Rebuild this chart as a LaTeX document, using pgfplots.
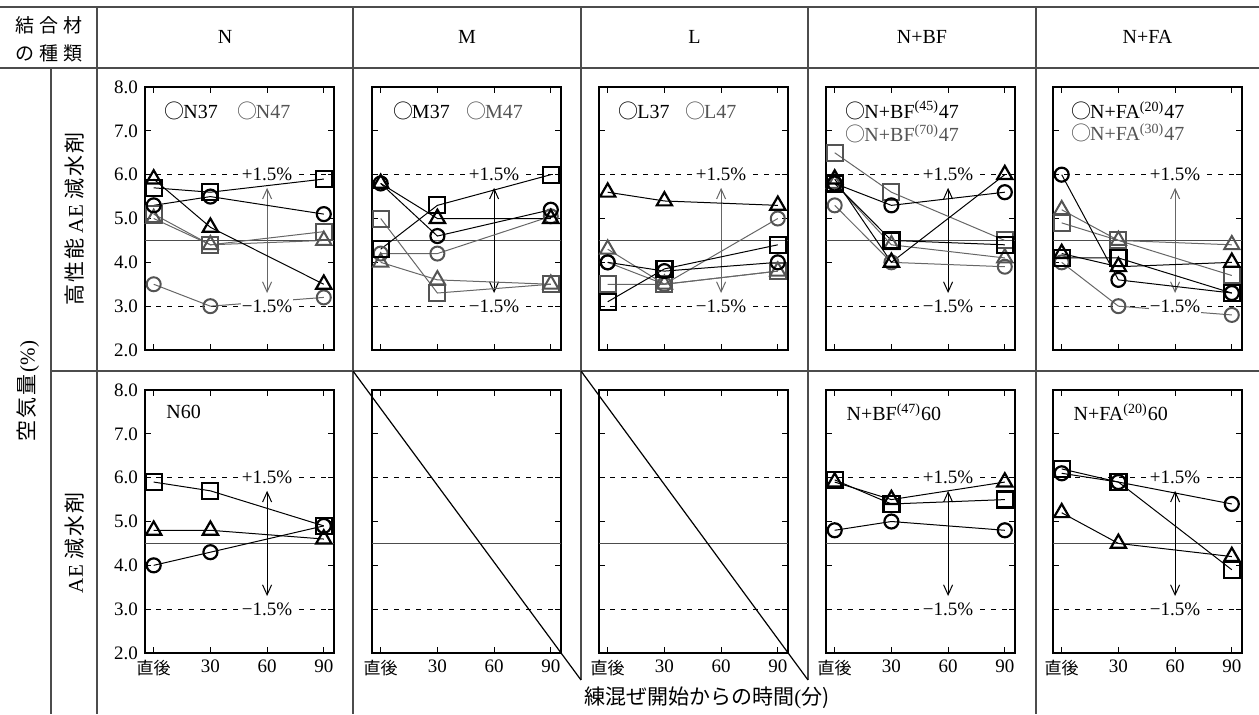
\documentclass[border=0pt]{standalone}
\usepackage{fontspec}
\setmainfont{Liberation Serif}
\newfontfamily\jp{Noto Sans CJK JP}
\usepackage{pgfplots}
\pgfplotsset{compat=1.18}
\usetikzlibrary{arrows.meta}
\definecolor{gm}{gray}{0.33}
\definecolor{gl}{gray}{0.40}
\definecolor{tl}{gray}{0.30}
\newcommand\fs{\fontsize{9.5}{11}\selectfont}
\newcommand\fl{\fontsize{10}{12}\selectfont}
\newcommand\cir{{\jp ○}\kern-0.6pt}
\tikzset{leg/.style={anchor=west, inner sep=0pt, font=\fl}}

\pgfplotsset{
  panel/.style={
    width=94.5pt, height=131.5pt, scale only axis,
    xmin=-4.6, xmax=95.4, ymin=2, ymax=8,
    xtick={0,30,60,90}, ytick={2,3,4,5,6,7,8},
    xticklabels={}, yticklabels={},
    axis line style={line width=1.4pt},
    major tick length=3pt,
    tick style={black, line width=0.5pt},
    tick label style={font=\fs},
    /pgf/number format/assume math mode=true,
    clip=false, anchor=north west,
  },
  ylab/.style={yticklabels={2.0,3.0,4.0,5.0,6.0,7.0,8.0}},
  xlab/.style={xticklabels={{\jp\fontsize{8.5}{9}\selectfont 直後},30,60,90}},
  bc/.style={black, line width=0.5pt, mark=o, mark size=3.5pt, mark options={line width=1.1pt}},
  bt/.style={black, line width=0.5pt, mark=triangle, mark size=4.4pt, mark options={line width=1.1pt}},
  bs/.style={black, line width=0.5pt, mark=square, mark size=4pt, mark options={line width=1.1pt}},
  gc/.style={gl, line width=0.5pt, mark=o, mark size=3.5pt, mark options={gm, line width=1pt}},
  gt/.style={gl, line width=0.5pt, mark=triangle, mark size=4.4pt, mark options={gm, line width=1pt}},
  gs/.style={gl, line width=0.5pt, mark=square, mark size=4pt, mark options={gm, line width=1pt}},
}

\newcommand\decoL{%
  \draw[black!70, line width=0.6pt] (axis cs:-4.6,4.5) -- (axis cs:95.4,4.5);
  \draw[black, line width=0.5pt, dash pattern=on 2.5pt off 3pt] (axis cs:-4.6,6) -- (axis cs:95.4,6);
  \draw[black, line width=0.5pt, dash pattern=on 2.5pt off 3pt] (axis cs:-4.6,3) -- (axis cs:95.4,3);
}
\newcommand\decoA[1]{%
  \decoL
  \draw[#1, line width=0.5pt, {Straight Barb[length=5pt,width=4.5pt]}-{Straight Barb[length=5pt,width=4.5pt]}] (axis cs:60,5.7) -- (axis cs:60,3.3);
}
\newcommand\decoB{%
  \node[fill=white, inner sep=0.6pt, font=\fs] at (axis cs:60,6) {+1.5\%};
  \node[fill=white, inner sep=0.6pt, font=\fs] at (axis cs:60,3) {−1.5\%};
}

\begin{document}
\begin{tikzpicture}
\useasboundingbox (0,0) rectangle (629.5pt,-357pt);

% ---------- top row ----------
\begin{axis}[panel, ylab, at={(72.5pt,-43.5pt)}]
\decoA{gl}
\addplot[gc] coordinates {(0,3.5)(30,3.0)(90,3.2)};
\addplot[gt] coordinates {(0,5.0)(30,4.4)(90,4.5)};
\addplot[gs] coordinates {(0,5.1)(30,4.4)(90,4.7)};
\addplot[bc] coordinates {(0,5.3)(30,5.5)(90,5.1)};
\addplot[bt] coordinates {(0,5.9)(30,4.8)(90,3.5)};
\addplot[bs] coordinates {(0,5.7)(30,5.6)(90,5.9)};
\decoB
\node[leg] at (axis cs:5.6,7.45) {\cir N37};
\node[leg, text=gm] at (axis cs:43.9,7.45) {\cir N47};
\end{axis}

\begin{axis}[panel, at={(186pt,-43.5pt)}]
\decoA{black}
\addplot[gc] coordinates {(0,4.2)(30,4.2)(90,5.05)};
\addplot[gt] coordinates {(0,4.0)(30,3.6)(90,3.5)};
\addplot[gs] coordinates {(0,5.0)(30,3.3)(90,3.5)};
\addplot[bc] coordinates {(0,5.8)(30,4.6)(90,5.2)};
\addplot[bt] coordinates {(0,5.8)(30,5.0)(90,5.0)};
\addplot[bs] coordinates {(0,4.3)(30,5.3)(90,6.0)};
\decoB
\node[leg] at (axis cs:6.4,7.45) {\cir M37};
\node[leg, text=gm] at (axis cs:45.1,7.45) {\cir M47};
\end{axis}

\begin{axis}[panel, at={(299.5pt,-43.5pt)}]
\decoA{gl}
\addplot[gc] coordinates {(0,4.0)(30,3.5)(90,5.0)};
\addplot[gt] coordinates {(0,4.3)(30,3.5)(90,3.8)};
\addplot[gs] coordinates {(0,3.5)(30,3.5)(90,3.8)};
\addplot[bc] coordinates {(0,4.0)(30,3.8)(90,4.0)};
\addplot[bt] coordinates {(0,5.6)(30,5.4)(90,5.3)};
\addplot[bs] coordinates {(0,3.1)(30,3.85)(90,4.4)};
\decoB
\node[leg] at (axis cs:5.6,7.45) {\cir L37};
\node[leg, text=gm] at (axis cs:40.9,7.45) {\cir L47};
\end{axis}

\begin{axis}[panel, at={(413pt,-43.5pt)}]
\decoA{black}
\addplot[gc] coordinates {(0,5.3)(30,4.0)(90,3.9)};
\addplot[gt] coordinates {(0,5.8)(30,4.4)(90,4.1)};
\addplot[gs] coordinates {(0,6.5)(30,5.6)(90,4.5)};
\addplot[bc] coordinates {(0,5.8)(30,5.3)(90,5.6)};
\addplot[bt] coordinates {(0,5.9)(30,4.0)(90,6.0)};
\addplot[bs] coordinates {(0,5.8)(30,4.5)(90,4.4)};
\decoB
\node[leg] at (axis cs:5.6,7.47) {\cir N+BF\textsuperscript{(45)}47};
\node[leg, text=gm] at (axis cs:5.6,6.94) {\cir N+BF\textsuperscript{(70)}47};
\end{axis}

\begin{axis}[panel, at={(526.5pt,-43.5pt)}]
\decoA{gl}
\addplot[gc] coordinates {(0,4.0)(30,3.0)(90,2.8)};
\addplot[gt] coordinates {(0,5.2)(30,4.5)(90,4.4)};
\addplot[gs] coordinates {(0,4.9)(30,4.5)(90,3.7)};
\addplot[bc] coordinates {(0,6.0)(30,3.6)(90,3.3)};
\addplot[bt] coordinates {(0,4.2)(30,3.9)(90,4.0)};
\addplot[bs] coordinates {(0,4.1)(30,4.1)(90,3.3)};
\decoB
\node[leg] at (axis cs:4.9,7.45) {\cir N+FA\textsuperscript{(20)}47};
\node[leg, text=gm] at (axis cs:4.9,6.96) {\cir N+FA\textsuperscript{(30)}47};
\end{axis}

% ---------- bottom row ----------
\begin{axis}[panel, ylab, xlab, at={(72.5pt,-195pt)}]
\decoA{black}
\addplot[bc] coordinates {(0,4.0)(30,4.3)(90,4.9)};
\addplot[bt] coordinates {(0,4.8)(30,4.8)(90,4.6)};
\addplot[bs] coordinates {(0,5.9)(30,5.7)(90,4.9)};
\decoB
\node[leg] at (axis cs:6.5,7.5) {N60};
\end{axis}

\begin{axis}[panel, xlab, at={(186pt,-195pt)}]
\decoL
\end{axis}

\begin{axis}[panel, xlab, at={(299.5pt,-195pt)}]
\decoL
\end{axis}

\begin{axis}[panel, xlab, at={(413pt,-195pt)}]
\decoA{black}
\addplot[bc] coordinates {(0,4.8)(30,5.0)(90,4.8)};
\addplot[bt] coordinates {(0,5.9)(30,5.5)(90,5.9)};
\addplot[bs] coordinates {(0,5.95)(30,5.4)(90,5.5)};
\decoB
\node[leg] at (axis cs:6.1,7.5) {N+BF\textsuperscript{(47)}60};
\end{axis}

\begin{axis}[panel, xlab, at={(526.5pt,-195pt)}]
\decoA{black}
\addplot[bc] coordinates {(0,6.1)(30,5.9)(90,5.4)};
\addplot[bt] coordinates {(0,5.2)(30,4.5)(90,4.2)};
\addplot[bs] coordinates {(0,6.2)(30,5.9)(90,3.9)};
\decoB
\node[leg] at (axis cs:6.1,7.5) {N+FA\textsuperscript{(20)}60};
\end{axis}

% ---------- table frame and labels ----------
\begin{scope}[x=0.5pt, y=-0.5pt]
\draw[tl, line width=0.6pt] (0,7) -- (1259,7);
\draw[tl, line width=0.6pt] (0,68) -- (1259,68);
\draw[tl, line width=0.6pt] (51,371) -- (1259,371);
\draw[tl, line width=0.6pt] (51,68) -- (51,714);
\draw[tl, line width=0.6pt] (97,7) -- (97,714);
\draw[tl, line width=0.6pt] (353,7) -- (353,714);
\draw[tl, line width=0.6pt] (581,7) -- (581,680);
\draw[tl, line width=0.6pt] (808,7) -- (808,680);
\draw[tl, line width=0.6pt] (1036,7) -- (1036,714);
\draw[black, line width=0.6pt] (353,371) -- (581,680);
\draw[black, line width=0.6pt] (581,371) -- (808,680);

\node[font=\jp\fontsize{9.5}{10}\selectfont] at (49,25) {結\kern2.5pt 合\kern2.5pt 材};
\node[font=\jp\fontsize{9.5}{10}\selectfont] at (49,53) {の\kern2.5pt 種\kern2.5pt 類};
\node[font=\fontsize{10}{12}\selectfont] at (225,37) {N};
\node[font=\fontsize{10}{12}\selectfont] at (467,37) {M};
\node[font=\fontsize{10}{12}\selectfont] at (694.5,37) {L};
\node[font=\fontsize{10}{12}\selectfont] at (922,37) {N+BF};
\node[font=\fontsize{10}{12}\selectfont] at (1147.5,37) {N+FA};

\node[rotate=90, font=\fontsize{10.5}{12}\selectfont] at (28,391) {{\jp 空\kern1pt 気\kern1pt 量}\kern1pt(\%)};
\node[rotate=90, font=\fontsize{10.5}{12}\selectfont] at (75,219) {{\jp 高\kern1pt 性\kern1pt 能} A\kern0.5pt E {\jp 減\kern1pt 水\kern1pt 剤}};
\node[rotate=90, font=\fontsize{10.5}{12}\selectfont] at (75,543) {A\kern0.5pt E {\jp 減\kern1pt 水\kern1pt 剤}};
\node[font=\fontsize{10.5}{12}\selectfont] at (707,698) {{\jp 練混ぜ開始からの時間}(\jp 分)};
\end{scope}
\end{tikzpicture}
\end{document}
